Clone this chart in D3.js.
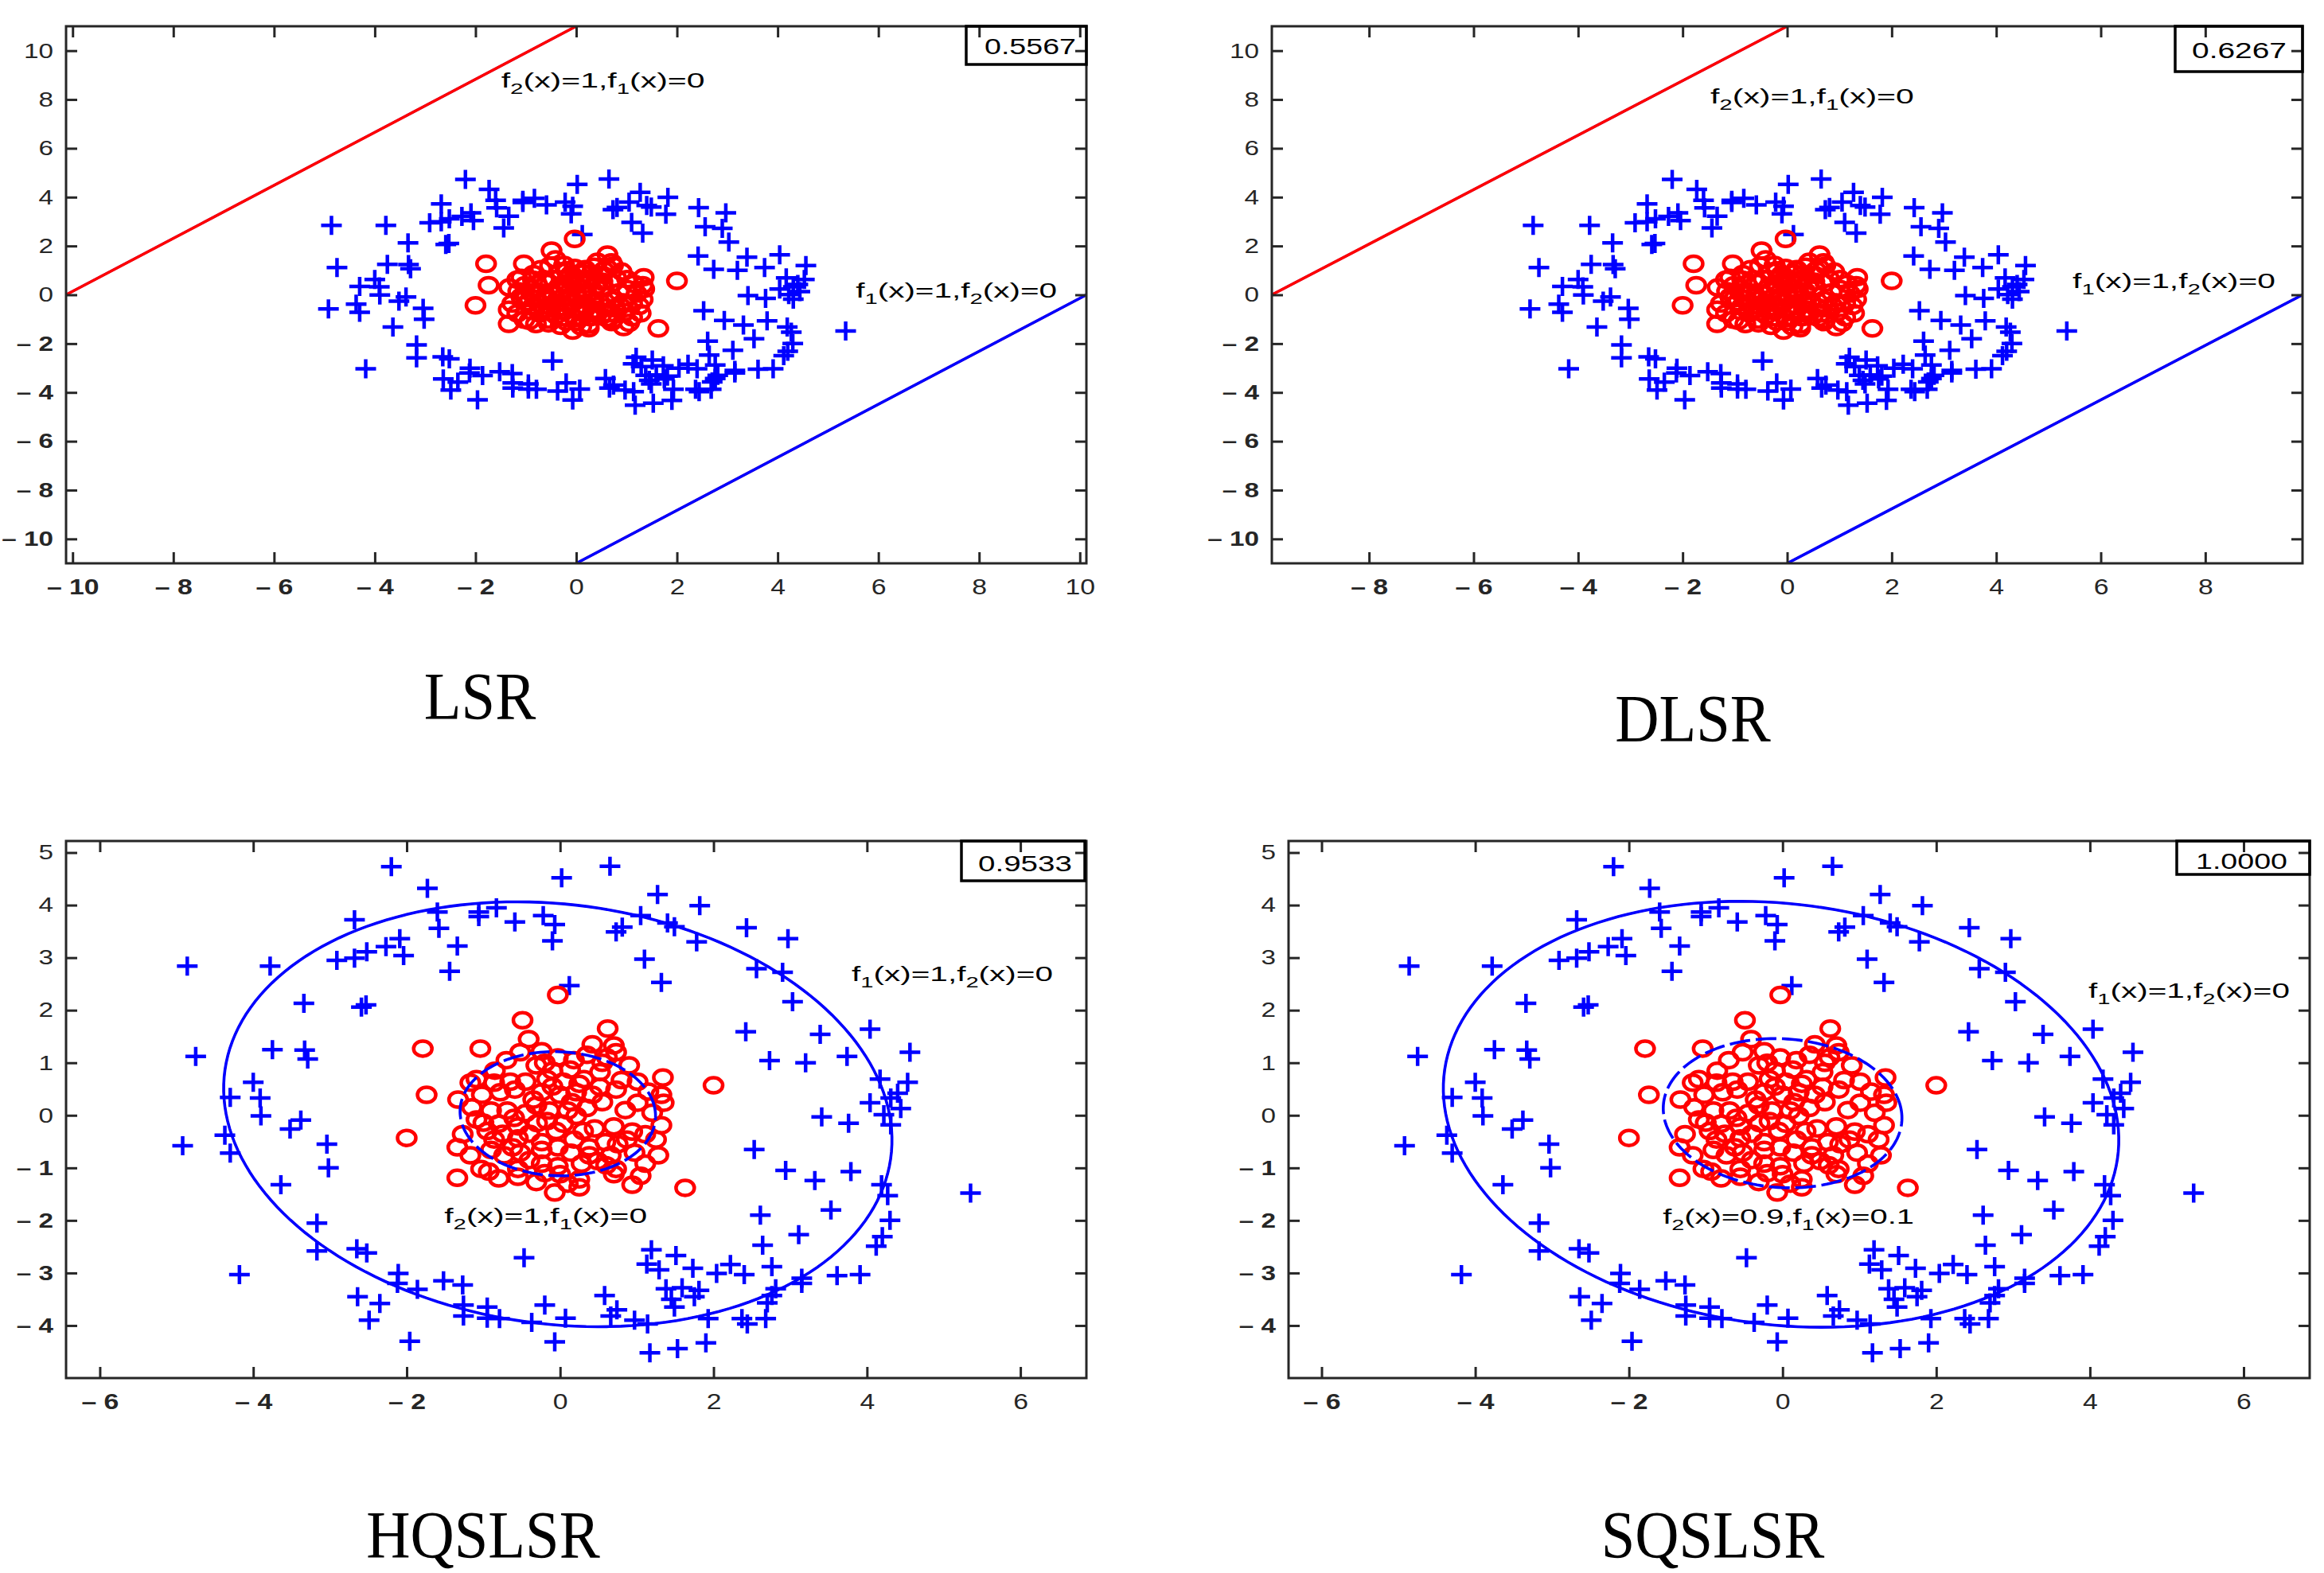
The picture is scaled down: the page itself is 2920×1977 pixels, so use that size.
<!DOCTYPE html>
<html>
<head>
<meta charset="utf-8">
<script src="https://cdn.jsdelivr.net/npm/d3@7"></script>
<style>
  body { margin: 0; background: #fff; }
</style>
</head>
<body>
<svg id="chart" width="2920" height="1977"></svg>
<script>
// ---- data ----
const blueCross = [
  [-2.20,4.73],[-1.73,4.32],[0.02,4.52],[-2.68,3.72],[-1.60,3.87],[-1.06,3.87],[-1.06,3.78],[-0.83,3.95],
  [-0.59,3.68],[-0.22,3.80],[-0.07,3.63],[-1.58,3.56],[-2.09,3.36],[-1.34,3.22],[-2.27,3.21],[-0.10,3.32],
  [-2.52,3.11],[-2.04,3.04],[-2.68,2.99],[-2.91,2.95],[-4.86,2.84],[-3.78,2.84],[-1.44,2.74],[0.12,2.47],
  [-3.34,2.13],[-2.59,2.06],[-2.53,2.10],[-4.75,1.12],[-3.75,1.25],[-3.33,1.24],[-3.29,1.07],[-4.00,0.63],
  [-4.30,0.34],[-3.91,0.33],[-3.90,-0.01],[-3.38,-0.09],[-3.52,-0.26],[-4.92,-0.58],[-4.37,-0.38],[-4.30,-0.72],
  [-3.04,-0.55],[-3.02,-1.00],[-3.64,-1.32],[-3.17,-2.05],[-3.17,-2.58],[-2.65,-2.54],[-2.52,-2.62],[-4.18,-3.03],
  [-2.11,-3.01],[-2.12,-3.20],[-1.86,-3.31],[-1.52,-3.15],[-1.27,-3.23],[-0.47,-2.71],[-2.64,-3.45],[-2.35,-3.58],
  [-2.49,-3.90],[-1.26,-3.61],[-1.26,-3.82],[-0.95,-3.65],[-0.95,-3.86],[-0.79,-3.87],[-0.37,-3.94],[-0.20,-3.61],
  [0.07,-3.86],[-1.96,-4.30],[-0.07,-4.31],
  [0.65,4.74],[1.27,4.20],[1.82,3.99],[1.05,3.80],[1.40,3.66],[1.49,3.59],[0.81,3.58],[0.73,3.49],
  [2.43,3.57],[1.78,3.30],[2.97,3.36],[1.10,2.97],[2.56,2.79],[2.90,2.72],[1.32,2.53],[3.03,2.16],
  [2.42,1.59],[3.39,1.54],[4.04,1.64],[2.73,1.04],[3.20,1.00],[3.74,1.12],[4.56,1.20],[4.17,0.69],
  [4.53,0.63],[4.40,0.42],[4.31,0.33],[4.04,0.24],[4.44,0.13],[4.22,0.01],[3.41,-0.03],[3.76,-0.15],
  [4.31,-0.18],[2.53,-0.65],[2.94,-1.05],[3.32,-1.24],[3.79,-1.07],[4.19,-1.32],[4.27,-1.53],[5.35,-1.48],
  [2.61,-1.90],[3.53,-1.80],[4.30,-2.00],[3.11,-2.27],[4.20,-2.31],[4.12,-2.49],[2.64,-2.47],[1.19,-2.56],
  [1.51,-2.67],[1.13,-2.83],[1.29,-2.94],[1.73,-2.91],[2.04,-3.01],[2.22,-2.84],[2.40,-3.03],[2.76,-2.88],
  [3.15,-3.10],[3.15,-3.20],[3.61,-3.05],[3.91,-3.03],[0.58,-3.43],[1.38,-3.30],[1.59,-3.28],[1.81,-3.33],
  [1.75,-3.45],[1.45,-3.50],[1.49,-3.65],[2.81,-3.30],[2.76,-3.43],[2.70,-3.57],[0.74,-3.70],[0.66,-3.82],
  [0.97,-3.90],[1.14,-3.97],[1.93,-3.87],[2.37,-3.87],[2.44,-3.97],[2.68,-3.87],[1.17,-4.52],[1.53,-4.44],
  [1.90,-4.33]
];

const redCircle = [
  [-0.03,2.29],[-0.49,1.81],[-1.79,1.27],[-1.74,0.39],[-2.00,-0.43],[2.00,0.57],[0.62,1.65],[1.63,-1.38],
  [-0.41,1.45],[-1.04,1.27],[0.42,1.35],[0.70,1.33],[0.73,1.20],[0.61,1.10],[-0.52,1.20],[-0.24,1.22],
  [-0.03,1.10],[0.18,1.05],[0.35,1.15],[0.13,0.87],[-0.10,0.85],[-0.31,0.95],[0.52,0.82],[0.80,0.67],
  [1.01,0.64],[1.34,0.72],[0.73,0.49],[0.52,0.54],[0.31,0.69],[0.04,0.64],[-0.17,0.69],[-0.45,0.64],
  [-0.65,0.64],[-0.86,0.62],[-1.09,0.69],[-1.17,0.62],[-1.33,0.30],[-1.02,0.39],[-0.78,0.44],[-0.59,0.49],
  [-0.24,0.44],[0.00,0.39],[0.21,0.44],[0.42,0.39],[1.01,0.24],[1.32,0.39],[1.35,0.24],[-1.09,-0.08],
  [-0.90,0.09],[-0.69,0.09],[-0.45,0.04],[-0.31,0.19],[-0.14,0.09],[0.10,0.09],[0.35,0.14],[-1.00,-0.14],
  [-0.80,-0.16],[-0.55,-0.21],[-0.17,-0.11],[0.04,-0.16],[0.21,-0.01],[0.70,-0.21],[0.94,-0.31],[1.32,-0.19],
  [1.11,-0.36],[-1.27,-0.36],[-0.86,-0.46],[-0.55,-0.44],[-0.62,-0.61],[-0.24,-0.51],[-0.03,-0.61],[0.18,-0.46],
  [0.38,-0.61],[0.59,-0.51],[0.87,-0.46],[1.25,-0.46],[-1.34,-0.61],[-1.17,-0.76],[-0.90,-0.66],[-0.73,-0.76],
  [-0.52,-0.71],[-0.24,-0.66],[0.14,-0.71],[0.38,-0.76],[0.66,-0.76],[0.97,-0.71],[1.28,-0.76],[-1.03,-1.02],
  [-0.93,-1.07],[-0.55,-1.02],[-0.24,-0.92],[-0.03,-0.97],[0.28,-0.92],[0.49,-0.87],[0.73,-1.02],[1.11,-0.92],
  [-1.34,-1.19],[-0.55,-1.17],[-0.31,-1.27],[0.00,-1.12],[0.25,-1.22],[0.70,-1.12],[0.94,-1.32],[-0.07,-1.47],
  [0.25,-1.37],[-0.35,0.30],[0.15,0.25],[-0.05,-0.30],[0.45,-0.25],[-0.40,-0.35],[0.25,0.60],[-0.20,1.00],
  [0.55,1.00],[-0.70,1.05],[-0.85,0.85],[0.90,0.95],[1.15,0.45],[0.85,0.10],[-0.60,-0.05],[-0.30,-0.15],
  [0.55,0.25],[-0.10,0.55],[0.30,-0.30],[-0.75,-0.35],[0.75,-0.55],[-0.40,-0.85],[0.10,-1.30],[1.05,-1.15],
  [-1.15,0.15],[-0.95,-0.30],[1.20,0.05],[0.60,-0.95],[-0.80,-1.20],[-0.20,-1.10]
];

const methodNames = ["LSR", "DLSR", "HQSLSR", "SQSLSR"];
const scores = ["0.5567", "0.6267", "0.9533", "1.0000"];

const wideYTicks = [-10, -8, -6, -4, -2, 0, 2, 4, 6, 8, 10];
const lsrXTicks = [-10, -8, -6, -4, -2, 0, 2, 4, 6, 8, 10];
const dlsrXTicks = [-8, -6, -4, -2, 0, 2, 4, 6, 8];
const zoomXTicks = [-6, -4, -2, 0, 2, 4, 6];
const zoomYTicks = [-4, -3, -2, -1, 0, 1, 2, 3, 4, 5];

// straight boundaries: [upper (class 2 side), lower (class 1 side)]
const lsrBoundaries = [[[-10.13, 0], [0, 11]], [[0, -11], [10.13, 0]]];
const dlsrBoundaries = [[[-9.86, 0], [0, 11]], [[0, -11], [9.86, 0]]];
// ellipse boundaries: [cx, cy, rx, ry, shearX, shearY]
const hqEllipses = [[-0.03, 0.02, 4.34, 4.04, -0.37, -0.15], [-0.03, 0.03, 1.27, 1.18, -0.10, 0.05]];
const sqEllipses = [[-0.02, 0.02, 4.38, 4.05, -0.37, -0.15], [0.00, 0.04, 1.55, 1.42, -0.10, 0.00]];

const lsrLabels = ["f_2(x)=1,f_1(x)=0", "f_1(x)=1,f_2(x)=0"];
const dlsrLabels = ["f_2(x)=1,f_1(x)=0", "f_1(x)=1,f_2(x)=0"];
const hqLabels = ["f_1(x)=1,f_2(x)=0", "f_2(x)=1,f_1(x)=0"];
const sqLabels = ["f_1(x)=1,f_2(x)=0", "f_2(x)=0.9,f_1(x)=0.1"];

// ---- layout ----
const panels = [
  { title: methodNames[0], score: scores[0], left: 83, right: 1365, top: 33, bottom: 708,
    xDomain: [-10.13, 10.13], yDomain: [-11, 11], xTicks: lsrXTicks, yTicks: wideYTicks,
    lines: lsrBoundaries, labels: lsrLabels, labelPos: [[-1.49, 8.5, 256], [5.55, -0.1, 253]],
    scoreBox: [1214, 1365, 33, 81], scoreText: [1237, 68, 115], titlePos: [603, 904] },
  { title: methodNames[1], score: scores[1], left: 1598, right: 2893, top: 33, bottom: 708,
    xDomain: [-9.86, 9.86], yDomain: [-11, 11], xTicks: dlsrXTicks, yTicks: wideYTicks,
    lines: dlsrBoundaries, labels: dlsrLabels, labelPos: [[-1.47, 7.85, 256], [5.46, 0.27, 255]],
    scoreBox: [2733, 2893, 33, 90], scoreText: [2754, 73, 119], titlePos: [2127, 932] },
  { title: methodNames[2], score: scores[2], left: 83, right: 1365, top: 1057, bottom: 1732,
    xDomain: [-6.44, 6.86], yDomain: [-5.0, 5.22], xTicks: zoomXTicks, yTicks: zoomYTicks,
    ellipses: hqEllipses, labels: hqLabels, labelPos: [[3.80, 2.55, 253], [-1.51, -2.04, 255]],
    scoreBox: [1208, 1363, 1057, 1107], scoreText: [1229, 1095, 118], titlePos: [607, 1958] },
  { title: methodNames[3], score: scores[3], left: 1619, right: 2902, top: 1057, bottom: 1732,
    xDomain: [-6.43, 6.86], yDomain: [-5.0, 5.22], xTicks: zoomXTicks, yTicks: zoomYTicks,
    ellipses: sqEllipses, labels: sqLabels, labelPos: [[3.98, 2.23, 253], [-1.56, -2.07, 316]],
    scoreBox: [2735, 2902, 1057, 1099], scoreText: [2759, 1092, 115], titlePos: [2152, 1958] }
];

const BLUE = "#0000ff", RED = "#ff0000", INK = "#262626";
const SANS = "'Liberation Sans', Arial, Helvetica, sans-serif";

const svg = d3.select("#chart");
svg.append("rect").attr("width", 2920).attr("height", 1977).attr("fill", "#fff");

const fmtTick = d => d < 0 ? "\u2013 " + Math.abs(d) : String(d);

// MATLAB text in the figure is drawn wide; stretch glyphs horizontally
function stretch(sel, s) {
  sel.each(function() {
    const t = d3.select(this);
    const tx = +t.attr("x") || 0, ty = +t.attr("y") || 0;
    t.attr("x", null).attr("y", null)
     .attr("transform", `translate(${tx},${ty}) scale(${s},1)`);
  });
}

function richText(parent, str, size) {
  const text = parent.append("text").attr("font-size", size).attr("font-family", SANS).attr("fill", "#000");
  const parts = str.split(/(_.)/).filter(p => p.length);
  let down = false;
  parts.forEach(p => {
    if (p[0] === "_") {
      text.append("tspan").attr("font-size", size * 0.72).attr("dy", 8).text(p[1]);
      down = true;
    } else {
      text.append("tspan").attr("dy", down ? -8 : 0).text(p);
      down = false;
    }
  });
  return text;
}

panels.forEach((cfg, i) => {
  const g = svg.append("g");
  const x = d3.scaleLinear().domain(cfg.xDomain).range([cfg.left, cfg.right]);
  const y = d3.scaleLinear().domain(cfg.yDomain).range([cfg.bottom, cfg.top]);

  const clipId = "clip" + i;
  g.append("clipPath").attr("id", clipId)
    .append("rect").attr("x", cfg.left).attr("y", cfg.top)
    .attr("width", cfg.right - cfg.left).attr("height", cfg.bottom - cfg.top);
  const plot = g.append("g").attr("clip-path", `url(#${clipId})`);

  const line = d3.line().x(d => x(d[0])).y(d => y(d[1]));

  if (cfg.lines) {
    // upper boundary: red over blue; lower boundary: blue over red
    plot.append("path").attr("d", line(cfg.lines[0])).attr("stroke", BLUE).attr("stroke-width", 3).attr("fill", "none");
    plot.append("path").attr("d", line(cfg.lines[0])).attr("stroke", RED).attr("stroke-width", 3.6).attr("fill", "none");
    plot.append("path").attr("d", line(cfg.lines[1])).attr("stroke", RED).attr("stroke-width", 3).attr("fill", "none");
    plot.append("path").attr("d", line(cfg.lines[1])).attr("stroke", BLUE).attr("stroke-width", 3.6).attr("fill", "none");
  }

  const ellipsePts = e => d3.range(0, 361, 2).map(a => {
    const t = a * Math.PI / 180;
    return [e[0] + e[2] * Math.cos(t) + e[4] * Math.sin(t), e[1] + e[3] * Math.sin(t) + e[5] * Math.cos(t)];
  });

  if (cfg.ellipses) {
    const outer = line(ellipsePts(cfg.ellipses[0]));
    plot.append("path").attr("d", outer).attr("stroke", RED).attr("stroke-width", 2.5).attr("fill", "none");
    plot.append("path").attr("d", outer).attr("stroke", BLUE).attr("stroke-width", 3.6).attr("fill", "none");
  }

  // class 2: blue crosses
  plot.append("g").selectAll("path").data(blueCross).join("path")
    .attr("d", d => `M${x(d[0]) - 13},${y(d[1])}h26M${x(d[0])},${y(d[1]) - 12}v24`)
    .attr("stroke", BLUE).attr("stroke-width", 4.5).attr("fill", "none");

  // class 1: red circles (drawn slightly wide, as in the figure)
  plot.append("g").selectAll("ellipse").data(redCircle).join("ellipse")
    .attr("cx", d => x(d[0])).attr("cy", d => y(d[1])).attr("rx", 11.5).attr("ry", 9.5)
    .attr("stroke", RED).attr("stroke-width", 4.5).attr("fill", "none");

  if (cfg.ellipses) {
    const inner = line(ellipsePts(cfg.ellipses[1]));
    plot.append("path").attr("d", inner).attr("stroke", BLUE).attr("stroke-width", 3.6)
      .attr("stroke-dasharray", "26,7").attr("fill", "none");
  }

  // axes with inward ticks on all four sides
  const styleAxis = (ax, size) => {
    ax.select(".domain").remove();
    ax.selectAll(".tick line").attr("stroke", INK).attr("stroke-width", 3);
    ax.attr("font-family", SANS).attr("font-size", size);
    ax.selectAll(".tick text").attr("fill", INK).attr("font-weight", d => d < 0 ? "bold" : "normal");
  };

  const axB = g.append("g").attr("transform", `translate(0,${cfg.bottom})`)
    .call(d3.axisBottom(x).tickValues(cfg.xTicks).tickSize(-14).tickPadding(20).tickFormat(fmtTick));
  styleAxis(axB, 27);
  stretch(axB.selectAll(".tick text"), 1.25);

  const axT = g.append("g").attr("transform", `translate(0,${cfg.top})`)
    .call(d3.axisTop(x).tickValues(cfg.xTicks).tickSize(-14).tickFormat(""));
  styleAxis(axT, 27);

  const axL = g.append("g").attr("transform", `translate(${cfg.left},0)`)
    .call(d3.axisLeft(y).tickValues(cfg.yTicks).tickSize(-14).tickPadding(16).tickFormat(fmtTick));
  styleAxis(axL, 26);
  stretch(axL.selectAll(".tick text"), 1.28);

  const axR = g.append("g").attr("transform", `translate(${cfg.right},0)`)
    .call(d3.axisRight(y).tickValues(cfg.yTicks).tickSize(-14).tickFormat(""));
  styleAxis(axR, 26);

  g.append("rect").attr("x", cfg.left).attr("y", cfg.top)
    .attr("width", cfg.right - cfg.left).attr("height", cfg.bottom - cfg.top)
    .attr("fill", "none").attr("stroke", INK).attr("stroke-width", 3);

  // boundary annotations
  cfg.labels.forEach((str, k) => {
    const [lx, ly, w] = cfg.labelPos[k];
    const holder = g.append("g");
    const t = richText(holder, str, 26);
    const natural = t.node().getComputedTextLength();
    holder.attr("transform", `translate(${x(lx)},${y(ly)}) scale(${w / natural},1)`);
  });

  // score box
  const [bx0, bx1, by0, by1] = cfg.scoreBox;
  g.append("rect").attr("x", bx0).attr("y", by0).attr("width", bx1 - bx0).attr("height", by1 - by0)
    .attr("fill", "none").attr("stroke", "#000").attr("stroke-width", 3.5);
  const sHolder = g.append("g");
  const sText = sHolder.append("text").attr("font-family", SANS).attr("font-size", 27).attr("fill", "#000").text(cfg.score);
  const sw = sText.node().getComputedTextLength();
  sHolder.attr("transform", `translate(${cfg.scoreText[0]},${cfg.scoreText[1]}) scale(${cfg.scoreText[2] / sw},1)`);

  // method title
  svg.append("text")
    .attr("transform", `translate(${cfg.titlePos[0]},${cfg.titlePos[1]}) scale(0.9,1)`)
    .attr("text-anchor", "middle")
    .attr("font-family", "'Liberation Serif', 'Times New Roman', serif")
    .attr("font-size", 85).attr("fill", "#000")
    .text(cfg.title);
});
</script>
</body>
</html>
